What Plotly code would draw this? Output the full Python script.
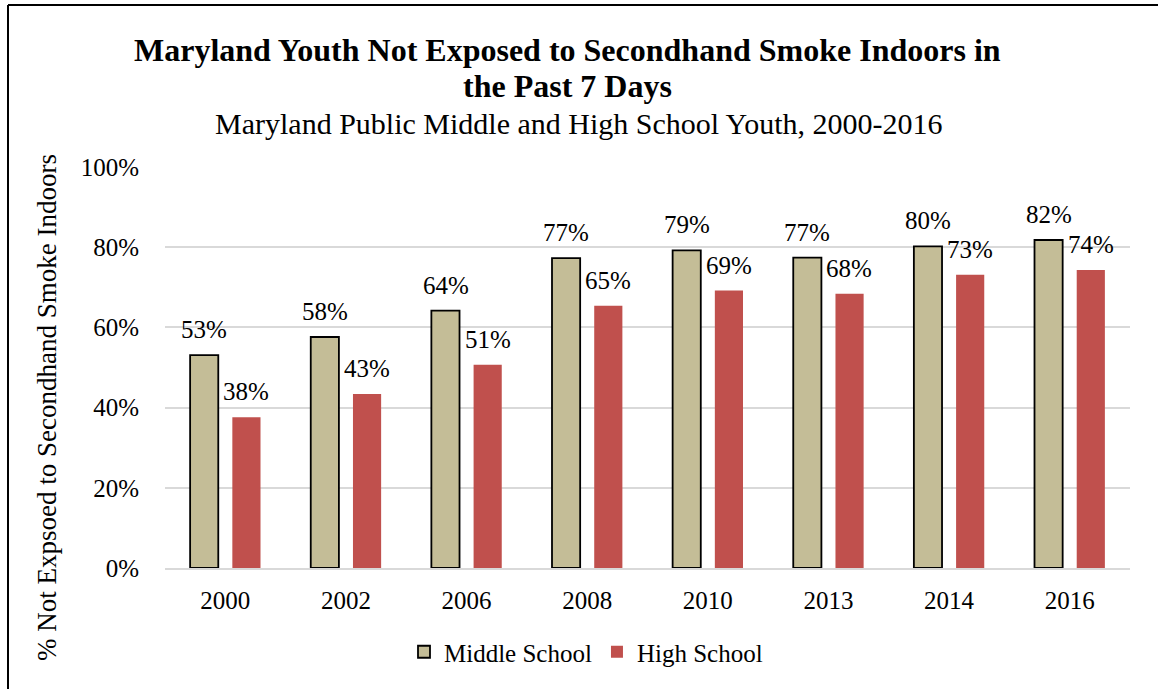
import plotly.graph_objects as go

years = ["2000", "2002", "2006", "2008", "2010", "2013", "2014", "2016"]
middle_school = [53.1, 57.6, 64.2, 77.3, 79.2, 77.4, 80.2, 81.8]
high_school = [37.6, 43.4, 50.7, 65.4, 69.2, 68.4, 73.1, 74.3]
y_ticks = [0, 20, 40, 60, 80, 100]
y_tick_labels = ["0%", "20%", "40%", "60%", "80%", "100%"]

FONT = "Liberation Serif"
W, H = 1158, 689
L, R, T, B = 165, 28, 167, 121
PW, PH = W - L - R, H - T - B


def px(x):
    return (x - L) / PW


def py(y):
    return (H - B - y) / PH


fig = go.Figure()
fig.add_trace(go.Bar(
    x=years, y=middle_school, name="Middle School",
    marker=dict(color="#C4BD97", line=dict(color="black", width=1.8)),
))
fig.add_trace(go.Bar(
    x=years, y=high_school, name="High School",
    marker=dict(color="#C0504D", line=dict(color="#C0504D", width=0)),
))

annotations = []
for i, yr in enumerate(years):
    for vals, shift in ((middle_school, -21), (high_school, 21)):
        annotations.append(dict(
            x=i, y=vals[i], xref="x", yref="y", xshift=shift, yshift=10,
            text=f"{round(vals[i])}%", showarrow=False, yanchor="bottom",
            font=dict(family=FONT, size=25, color="black"),
        ))

annotations += [
    dict(x=px(567), y=py(50), xref="paper", yref="paper", showarrow=False,
         text="<b>Maryland Youth Not Exposed to Secondhand Smoke Indoors in</b>",
         font=dict(family=FONT, size=32, color="black"), xanchor="center", yanchor="middle"),
    dict(x=px(567), y=py(86), xref="paper", yref="paper", showarrow=False,
         text="<b>the Past 7 Days</b>",
         font=dict(family=FONT, size=32, color="black"), xanchor="center", yanchor="middle"),
    dict(x=px(579), y=py(124), xref="paper", yref="paper", showarrow=False,
         text="Maryland Public Middle and High School Youth, 2000-2016",
         font=dict(family=FONT, size=30, color="black"), xanchor="center", yanchor="middle"),
    dict(x=px(47), y=py(408), xref="paper", yref="paper", showarrow=False,
         text="% Not Expsoed to Secondhand Smoke Indoors", textangle=-90,
         font=dict(family=FONT, size=27, color="black"), xanchor="center", yanchor="middle"),
]

shapes = [
    dict(type="line", xref="paper", yref="paper", x0=px(8), x1=px(W + 5), y0=py(5), y1=py(5),
         line=dict(color="black", width=2)),
    dict(type="line", xref="paper", yref="paper", x0=px(8), x1=px(8), y0=py(5), y1=py(H + 5),
         line=dict(color="black", width=2)),
]

fig.update_layout(
    width=W, height=H,
    margin=dict(l=L, r=R, t=T, b=B),
    paper_bgcolor="white", plot_bgcolor="white",
    barmode="group", bargap=0.30, bargroupgap=0.333,
    font=dict(family=FONT, size=25, color="black"),
    showlegend=True,
    legend=dict(orientation="h", x=px(586), y=py(652), xanchor="center", yanchor="middle",
                font=dict(family=FONT, size=25, color="black"), itemwidth=30,
                traceorder="normal"),
    annotations=annotations,
    shapes=shapes,
)
fig.update_xaxes(type="category", range=[-0.5, len(years) - 0.5], showgrid=False,
                 showline=True, linecolor="#D9D9D9",
                 linewidth=1.5, ticks="", ticklabelstandoff=9,
                 tickfont=dict(family=FONT, size=25))
fig.update_yaxes(range=[0, 100], tickvals=y_ticks, ticktext=y_tick_labels,
                 showgrid=True, gridcolor="#D9D9D9", gridwidth=1.5, zeroline=False,
                 showline=False, ticks="", ticklabelstandoff=25,
                 tickfont=dict(family=FONT, size=25))

fig.write_html("out.html")
